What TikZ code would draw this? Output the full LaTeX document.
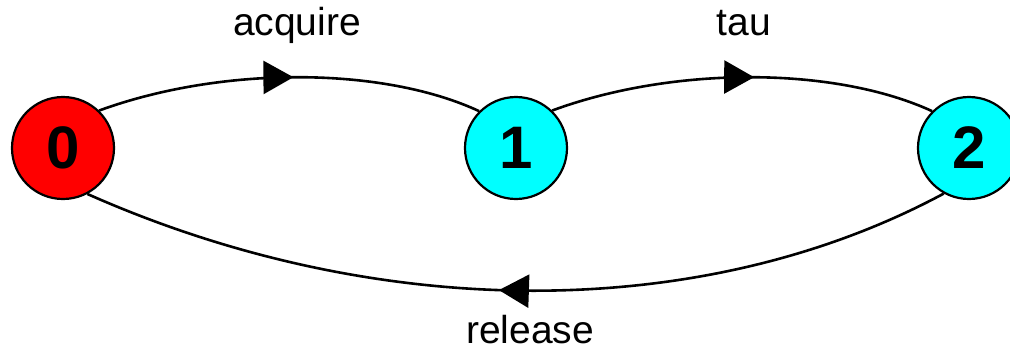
\documentclass[tikz,border=0pt]{standalone}
\usepackage{fontspec}
\setmainfont{Liberation Sans}
\usetikzlibrary{arrows.meta,decorations.markings}
\definecolor{statered}{RGB}{255,0,0}
\definecolor{statecyan}{RGB}{0,255,255}
\tikzset{
  state/.style={circle,draw=black,line width=2.2pt,minimum size=102pt,inner sep=0pt,
    font=\fontsize{60}{60}\selectfont\bfseries},
  lbl/.style={anchor=base,inner sep=0pt,font=\fontsize{39}{40}\selectfont},
  trans/.style={line width=2.6pt,postaction={decorate},
    decoration={markings,mark=at position #1 with {\arrow{Triangle[length=30pt,width=33pt]}}}}
}
\begin{document}
\begin{tikzpicture}[x=1pt,y=-1pt]
\useasboundingbox (0,0) rectangle (1010,360);
\node[state,fill=statered] (n0) at (63,148) {0};
\node[state,fill=statecyan] (n1) at (516,148) {1};
\node[state,fill=statecyan] (n2) at (969,148) {2};
\draw[trans=0.51] (n0.46) .. controls (221,66) and (382,66) .. (n1.135);
\draw[trans=0.53] (n1.46) .. controls (673,66) and (834,66) .. (n2.135);
\draw[trans=0.52] (n2.-119) .. controls (703,323) and (378,323) .. (n0.-62);
\node[lbl] (la) at (297,35) {acquire};
\node[lbl] (lt) at (744,35) {tau};
\node[lbl] (lr) at (530,343) {release};
\end{tikzpicture}
\end{document}
